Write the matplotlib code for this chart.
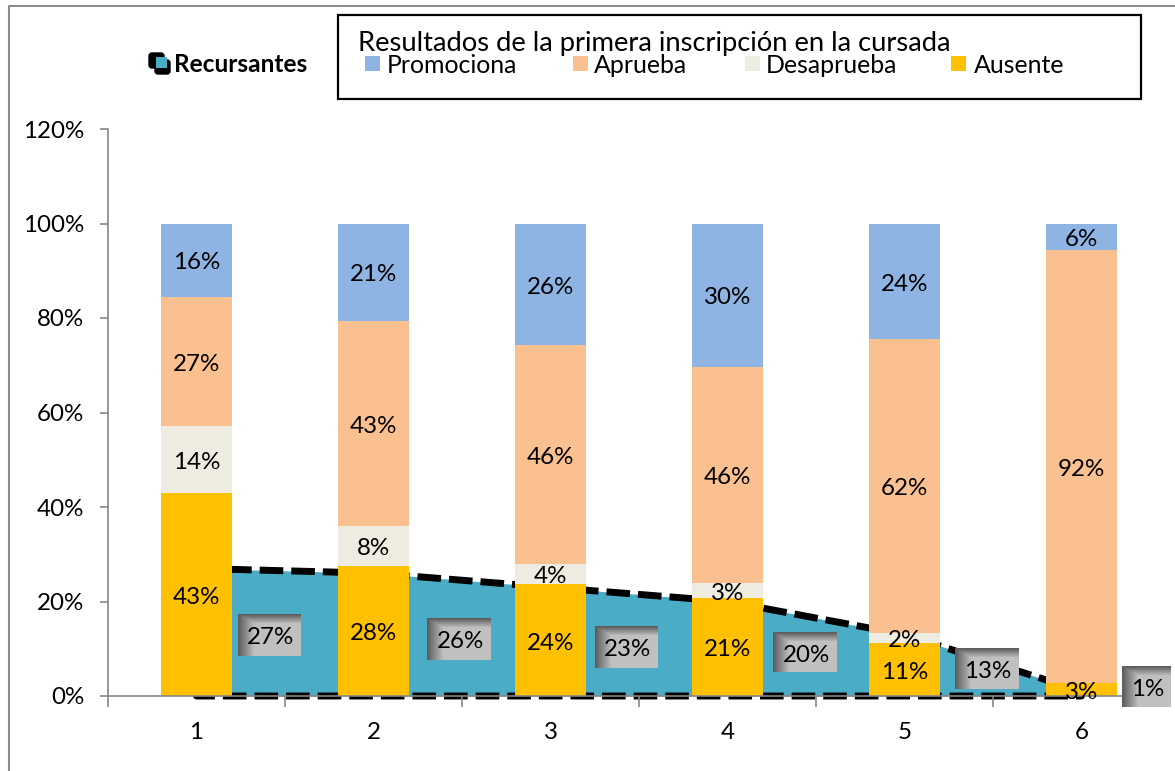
import numpy as np
import matplotlib
matplotlib.use('Agg')
import matplotlib.pyplot as plt
from matplotlib.patches import Rectangle, FancyBboxPatch

plt.rcParams['font.family'] = ['Lato', 'DejaVu Sans']

# ==============================================DATOS===================================================================
categorias = [1, 2, 3, 4, 5, 6]
ausente = [0.43, 0.276, 0.236, 0.207, 0.113, 0.028]
desaprueba = [0.142, 0.084, 0.044, 0.032, 0.02, 0.0]
aprueba = [0.273, 0.434, 0.462, 0.458, 0.622, 0.916]
promociona = [0.155, 0.206, 0.258, 0.303, 0.245, 0.056]
recursantes = [0.27, 0.26, 0.23, 0.20, 0.13, 0.01]

ausente_txt = ['43%', '28%', '24%', '21%', '11%', '3%']
desaprueba_txt = ['14%', '8%', '4%', '3%', '2%', '']
aprueba_txt = ['27%', '43%', '46%', '46%', '62%', '92%']
promociona_txt = ['16%', '21%', '26%', '30%', '24%', '6%']
recursantes_txt = ['27%', '26%', '23%', '20%', '13%', '1%']

y_ticks = [0, 0.2, 0.4, 0.6, 0.8, 1.0, 1.2]
y_labels = ['0%', '20%', '40%', '60%', '80%', '100%', '120%']
titulo = 'Resultados de la primera inscripción en la cursada'
nombres = ['Promociona', 'Aprueba', 'Desaprueba', 'Ausente']

# ==============================================ESTILO==================================================================
W, H = 1175, 771
c_prom, c_apr, c_des, c_aus, c_rec = '#8EB4E3', '#FAC090', '#EEECE1', '#FFC000', '#4BACC6'
fs = 17.4

# cajas de las etiquetas del area (x0, y0, x1, y1 en pixeles)
cajas = [(238, 614, 301, 656), (427, 618, 491, 660), (595, 626, 658, 668),
         (773, 632, 837, 672), (955, 648, 1019, 689), (1122, 666, 1171, 707)]
leyenda_x = [(365, 387), (573, 594), (745, 766), (951, 974)]

fig = plt.figure(figsize=(W / 100, H / 100), dpi=100)

# ==============================================GRAFICO=================================================================
ax = fig.add_axes([108 / W, 1 - 696 / H, (1170 - 108) / W, (696 - 129) / H])
ax.set_xlim(0.5, 6.5)
ax.set_ylim(0, 1.2)

# area con borde a trazos (queda por detras de las barras)
ax.fill_between(categorias, recursantes, 0, color=c_rec, lw=0, zorder=1)
x_borde = categorias + categorias[::-1] + categorias[:1]
y_borde = recursantes + [0] * 6 + recursantes[:1]
ax.plot(x_borde, y_borde, color='black', lw=5, dashes=(3.4, 1.15), clip_on=False,
        solid_capstyle='butt', dash_capstyle='butt', zorder=1.5)

# barras apiladas
abajo = np.zeros(6)
for vals, col, txt in [(ausente, c_aus, ausente_txt), (desaprueba, c_des, desaprueba_txt),
                       (aprueba, c_apr, aprueba_txt), (promociona, c_prom, promociona_txt)]:
    ax.bar(categorias, vals, 0.4, bottom=abajo, color=col, edgecolor='none', zorder=2)
    for i in range(6):
        ax.annotate(txt[i], (categorias[i], abajo[i] + vals[i] / 2), xytext=(0, -2),
                    textcoords='offset points', ha='center', va='center',
                    fontsize=fs, color='black', zorder=4)
    abajo = abajo + np.array(vals)

for lado in ['top', 'right']:
    ax.spines[lado].set_visible(False)
for lado in ['left', 'bottom']:
    ax.spines[lado].set_color('#868686')
    ax.spines[lado].set_linewidth(1.2)
    ax.spines[lado].set_zorder(3)

ax.set_yticks(y_ticks, y_labels)
ax.set_xticks(categorias, [str(c) for c in categorias])
ax.set_xticks(np.arange(0.5, 7, 1), minor=True)
ax.tick_params(axis='y', length=6, width=1.2, color='#868686', labelsize=fs, pad=11)
ax.tick_params(axis='x', which='major', length=0, labelsize=fs, pad=19)
ax.tick_params(axis='x', which='minor', length=8, width=1.2, color='#868686')

# ==============================================CAPA DE PIXELES=========================================================
capa = fig.add_axes([0, 0, 1, 1], zorder=5)
capa.patch.set_alpha(0)
capa.axis('off')

# marco exterior
capa.plot([9, 9, W], [H, 6, 6], color='#8C8C8C', lw=1.5)

# cajas con degradado
for (x0, y0, x1, y1), txt in zip(cajas, recursantes_txt):
    w, h = x1 - x0, y1 - y0
    xx, yy = np.meshgrid(np.arange(w), np.arange(h))
    grad = np.minimum(np.minimum(xx / 16, yy / 9), 1)
    capa.imshow(0.36 + (0.75 - 0.36) * grad, cmap='gray', vmin=0, vmax=1, aspect='auto',
                extent=(x0, x1, y1, y0), interpolation='bilinear', zorder=2)
    capa.text((x0 + x1) / 2 + 1, (y0 + y1) / 2 + 3, txt, ha='center', va='center', fontsize=fs, zorder=3)

# cuadro de la leyenda
capa.add_patch(Rectangle((338, 15), 803, 84, fc='white', ec='black', lw=1.6))
capa.text(358, 43, titulo, fontsize=19.7, ha='left', va='center', color='black')
for (xc, xt), nombre, col in zip(leyenda_x, nombres, [c_prom, c_apr, c_des, c_aus]):
    capa.add_patch(Rectangle((xc, 56), 15, 15, fc=col, ec='none'))
    capa.text(xt, 65.5, nombre, fontsize=17.9, ha='left', va='center', color='black')

# leyenda del area
capa.add_patch(FancyBboxPatch((149, 53), 15, 15, boxstyle='round,pad=0,rounding_size=3', fc='black', ec='black', lw=1))
capa.add_patch(FancyBboxPatch((155, 60), 15, 14, boxstyle='round,pad=0,rounding_size=3', fc='black', ec='black', lw=1))
capa.add_patch(Rectangle((156, 57), 11, 11, fc=c_rec, ec='none'))
capa.text(174, 64.5, 'Recursantes', fontsize=17.6, fontweight='bold', ha='left', va='center')

capa.set_xlim(0, W)
capa.set_ylim(H, 0)

fig.savefig('out.png', dpi=100)
